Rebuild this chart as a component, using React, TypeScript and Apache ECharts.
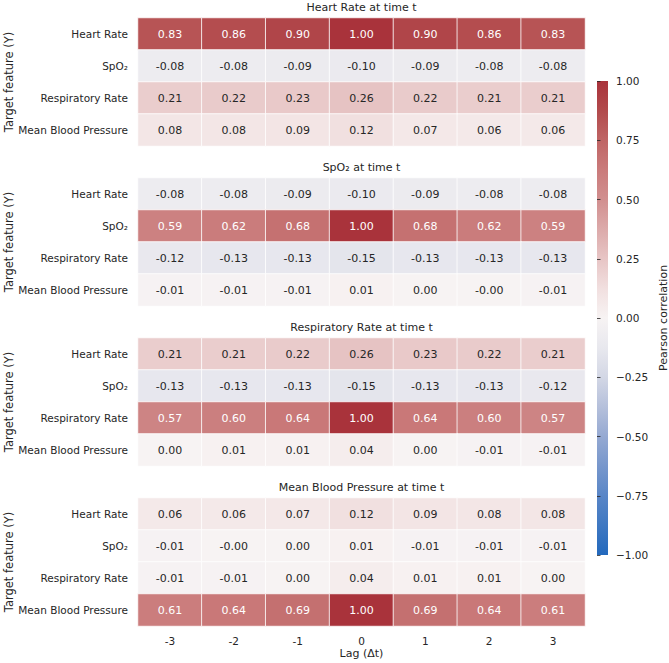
import React, { useEffect, useRef } from "react";
import * as echarts from "echarts";

// Lag offsets (columns) and target features (rows)
const LAGS = ["-3", "-2", "-1", "0", "1", "2", "3"];
const FEATURES = ["Heart Rate", "SpO\u2082", "Respiratory Rate", "Mean Blood Pressure"];
const PANEL_TITLES = [
  "Heart Rate at time t",
  "SpO\u2082 at time t",
  "Respiratory Rate at time t",
  "Mean Blood Pressure at time t",
];
const Y_LABEL = "Target feature (Y)";

// Lagged Pearson correlations, one matrix per source feature (rows = target feature)
const HEART_RATE_CORR = [
  [0.83, 0.86, 0.9, 1.0, 0.9, 0.86, 0.83],
  [-0.08, -0.08, -0.09, -0.1, -0.09, -0.08, -0.08],
  [0.21, 0.22, 0.23, 0.26, 0.22, 0.21, 0.21],
  [0.08, 0.08, 0.09, 0.12, 0.07, 0.06, 0.06],
];
const SPO2_CORR = [
  [-0.08, -0.08, -0.09, -0.1, -0.09, -0.08, -0.08],
  [0.59, 0.62, 0.68, 1.0, 0.68, 0.62, 0.59],
  [-0.12, -0.13, -0.13, -0.15, -0.13, -0.13, -0.13],
  [-0.01, -0.01, -0.01, 0.01, 0.0, -0.003, -0.01],
];
const RESP_RATE_CORR = [
  [0.21, 0.21, 0.22, 0.26, 0.23, 0.22, 0.21],
  [-0.13, -0.13, -0.13, -0.15, -0.13, -0.13, -0.12],
  [0.57, 0.6, 0.64, 1.0, 0.64, 0.6, 0.57],
  [0.0, 0.01, 0.01, 0.04, 0.0, -0.01, -0.01],
];
const MBP_CORR = [
  [0.06, 0.06, 0.07, 0.12, 0.09, 0.08, 0.08],
  [-0.01, -0.003, 0.0, 0.01, -0.01, -0.01, -0.01],
  [-0.01, -0.01, 0.0, 0.04, 0.01, 0.01, 0.0],
  [0.61, 0.64, 0.69, 1.0, 0.69, 0.64, 0.61],
];
const PANELS = [HEART_RATE_CORR, SPO2_CORR, RESP_RATE_CORR, MBP_CORR];

// Diverging palette from -1 to 1 in steps of 0.125
const PALETTE = [
  "#2369bd",
  "#3f78c2",
  "#5986c7",
  "#7797cc",
  "#95a9d2",
  "#b5c0db",
  "#d3d7e5",
  "#e8e8ee",
  "#f7f3f3",
  "#f1dfdf",
  "#e7c5c5",
  "#dcaaaa",
  "#d18f8f",
  "#ca7b7b",
  "#bf6565",
  "#b24a4c",
  "#a9333b",
];
const COLORBAR_TICKS_INTERVAL = 0.25;

const TEXT = "#262626";
const FONT = "DejaVu Sans";

const GRID_LEFT = 138;
const GRID_WIDTH = 447;
const GRID_TOP = 18;
const GRID_HEIGHT = 128;
const PANEL_STEP = 160;

const CB_LEFT = 597;
const CB_WIDTH = 11;
const CB_TOP = 81;
const CB_HEIGHT = 474;

export default function App() {
  const ref = useRef<HTMLDivElement>(null);

  useEffect(() => {
    if (!ref.current) return;
    const chart = echarts.init(ref.current, null, { renderer: "svg" });

    const grids: any[] = PANELS.map((_, i) => ({
      left: GRID_LEFT,
      width: GRID_WIDTH,
      top: GRID_TOP + PANEL_STEP * i,
      height: GRID_HEIGHT,
      containLabel: false,
      outerBoundsMode: "none",
    }));
    grids.push({
      left: CB_LEFT,
      width: CB_WIDTH,
      top: CB_TOP,
      height: CB_HEIGHT,
      containLabel: false,
      outerBoundsMode: "none",
    });

    const xAxes: any[] = PANELS.map((_, i) => ({
      type: "category",
      gridIndex: i,
      data: LAGS,
      axisLine: { show: false },
      axisTick: { show: false },
      splitLine: { show: false },
      axisLabel: { show: i === PANELS.length - 1, color: TEXT, fontSize: 10.5, margin: 9, fontFamily: FONT },
      name: i === PANELS.length - 1 ? "Lag (\u0394t)" : "",
      nameLocation: "middle",
      nameGap: 22,
      nameTextStyle: { color: TEXT, fontSize: 11, fontFamily: FONT },
    }));
    xAxes.push({ type: "value", gridIndex: 4, show: false, min: 0, max: 1 });

    const yAxes: any[] = PANELS.map((_, i) => ({
      type: "category",
      gridIndex: i,
      data: FEATURES,
      inverse: true,
      axisLine: { show: false },
      axisTick: { show: false },
      splitLine: { show: false },
      axisLabel: { color: TEXT, fontSize: 10.5, margin: 10, fontFamily: FONT },
    }));
    yAxes.push({
      type: "value",
      gridIndex: 4,
      position: "right",
      min: -1,
      max: 1,
      interval: COLORBAR_TICKS_INTERVAL,
      axisLine: { show: false },
      axisTick: { show: true, length: 3.5, lineStyle: { color: TEXT, width: 0.8 } },
      splitLine: { show: false },
      axisLabel: {
        color: TEXT,
        fontSize: 10.5,
        margin: 8,
        fontFamily: FONT,
        formatter: (v: number) => v.toFixed(2).replace("-", "\u2212"),
      },
      name: "Pearson correlation",
      nameLocation: "middle",
      nameRotate: 90,
      nameGap: 50,
      nameTextStyle: { color: TEXT, fontSize: 11, fontFamily: FONT },
    });

    const series = PANELS.map((matrix, i) => ({
      type: "heatmap",
      xAxisIndex: i,
      yAxisIndex: i,
      data: matrix.flatMap((row, r) =>
        row.map((v, c) => ({
          value: [c, r, v],
          label: { color: v > 0.45 ? "#ffffff" : TEXT },
        }))
      ),
      label: {
        show: true,
        fontSize: 11,
        fontFamily: FONT,
        formatter: (p: any) => (p.value[2] as number).toFixed(2),
      },
      itemStyle: { borderColor: "#ffffff", borderWidth: 0.8 },
      emphasis: { disabled: true },
    }));

    const gradientStops = PALETTE.slice()
      .reverse()
      .map((color, k) => ({ offset: k / (PALETTE.length - 1), color }));

    const graphics: any[] = [];
    PANEL_TITLES.forEach((t, i) => {
      const top = GRID_TOP + PANEL_STEP * i;
      // panel title
      graphics.push({
        type: "text",
        x: GRID_LEFT + GRID_WIDTH / 2,
        y: top - 11,
        style: {
          text: t,
          fill: TEXT,
          font: `11px "${FONT}"`,
          align: "center",
          verticalAlign: "middle",
        },
      });
      // rotated y-axis title
      graphics.push({
        type: "text",
        x: 9,
        y: top + GRID_HEIGHT / 2,
        rotation: Math.PI / 2,
        style: {
          text: Y_LABEL,
          fill: TEXT,
          font: `11.5px "${FONT}"`,
          align: "center",
          verticalAlign: "middle",
        },
      });
    });
    graphics.push({
      type: "rect",
      shape: { x: CB_LEFT, y: CB_TOP, width: CB_WIDTH, height: CB_HEIGHT },
      style: { fill: new echarts.graphic.LinearGradient(0, 0, 0, 1, gradientStops) },
      z: -1,
    });

    chart.setOption({
      animation: false,
      backgroundColor: "#ffffff",
      textStyle: { fontFamily: FONT },
      grid: grids,
      xAxis: xAxes,
      yAxis: yAxes,
      visualMap: {
        type: "continuous",
        show: false,
        min: -1,
        max: 1,
        seriesIndex: [0, 1, 2, 3],
        inRange: { color: PALETTE },
      },
      series,
      graphic: graphics,
    });

    return () => chart.dispose();
  }, []);

  return (
    <div
      ref={ref}
      style={{ position: "fixed", left: 0, top: 0, width: 669, height: 663, background: "#fff" }}
    />
  );
}
